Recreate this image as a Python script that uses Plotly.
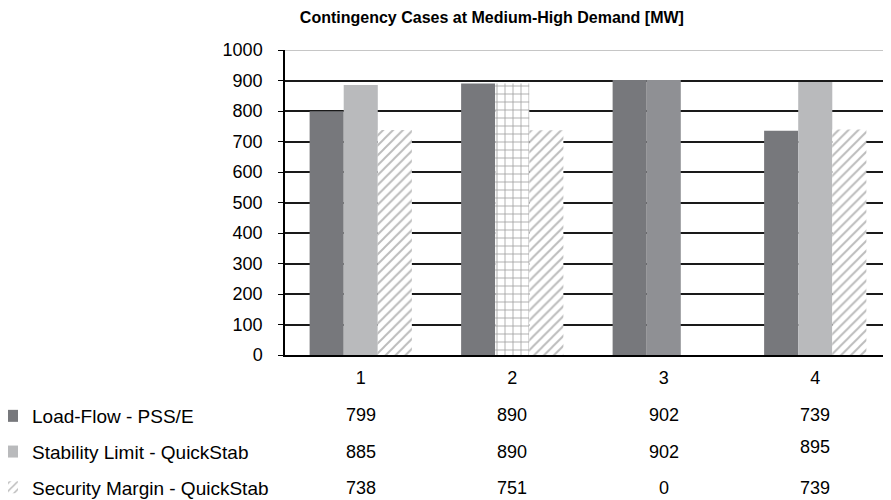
import plotly.graph_objects as go

categories = ["1", "2", "3", "4"]
series_names = ["Load-Flow - PSS/E", "Stability Limit - QuickStab", "Security Margin - QuickStab"]

# bar heights
load_flow = [799, 890, 902, 735]
stability = [885, 890, 902, 895]
security = [738, 737, 0, 739]

# values printed in the data table
table_load_flow = ["799", "890", "902", "739"]
table_stability = ["885", "890", "902", "895"]
table_security = ["738", "751", "0", "739"]

y_ticks = list(range(0, 1001, 100))

FONT = "Liberation Sans, Arial, sans-serif"
DARK = "#77787c"
LIGHT = "#b9babc"
MID = "#8f9094"

fig = go.Figure()
fig.add_trace(go.Bar(
    x=categories, y=load_flow, name=series_names[0],
    marker=dict(color=DARK, line=dict(width=0)),
    legendgroup="a",
))
fig.add_trace(go.Bar(
    x=categories, y=stability, name=series_names[1],
    marker=dict(
        color=[LIGHT, "white", MID, LIGHT], line=dict(width=0),
        pattern=dict(shape=["", "+", "", ""], fgcolor="#9a9a9a", size=8,
                     solidity=0.2, fillmode="overlay"),
    ),
    legendgroup="b",
))
fig.add_trace(go.Bar(
    x=categories, y=security, name=series_names[2],
    marker=dict(
        color="white", line=dict(width=0),
        pattern=dict(shape="/", fgcolor="#7a7a7a", size=7, solidity=0.28,
                     fillmode="overlay"),
    ),
    legendgroup="c",
))

# data table values (x given as category index)
rows = [(table_load_flow, -0.197), (table_stability, -0.318), (table_security, -0.437)]
for vals, yy in rows:
    for i, v in enumerate(vals):
        y_here = yy
        if vals is table_stability and i == 3:
            y_here = -0.302
        fig.add_annotation(x=i, y=y_here, xref="x", yref="paper", text=v,
                           showarrow=False, font=dict(family=FONT, size=18, color="black"),
                           xanchor="center", yanchor="middle")

# top gridline lighter
fig.add_shape(type="line", xref="paper", yref="y", x0=0, x1=1,
              y0=y_ticks[-1], y1=y_ticks[-1], line=dict(color="#b3b3b3", width=1.5),
              layer="below")

fig.update_layout(
    width=883, height=492,
    margin=dict(l=277, r=0, t=42, b=145, autoexpand=False),
    paper_bgcolor="white", plot_bgcolor="white",
    barmode="group", bargap=0.325, bargroupgap=0,
    font=dict(family=FONT, size=18, color="black"),
    title=dict(text="<b>Contingency Cases at Medium-High Demand [MW]</b>",
               x=0.548, xanchor="center", y=0.98, yanchor="middle",
               font=dict(family=FONT, size=16, color="black")),
    showlegend=True,
    legend=dict(xref="paper", yref="paper", x=-0.4835, y=-0.1377, xanchor="left",
                yanchor="top", traceorder="grouped", tracegroupgap=8,
                font=dict(family=FONT, size=19, color="black"),
                bgcolor="rgba(0,0,0,0)"),
    xaxis=dict(type="category", showline=True, linecolor="black", linewidth=1.5,
               ticks="", showgrid=False, ticklabelstandoff=6,
               tickfont=dict(family=FONT, size=18)),
    yaxis=dict(range=[0, 1000], tickvals=y_ticks, showline=True,
               linecolor="black", linewidth=1.5, ticks="outside", ticklen=5,
               tickcolor="black", showgrid=True, gridcolor="#1a1a1a", gridwidth=1.5,
               zeroline=False, ticklabelstandoff=12,
               tickfont=dict(family=FONT, size=18)),
)

fig.write_html("out.html")
